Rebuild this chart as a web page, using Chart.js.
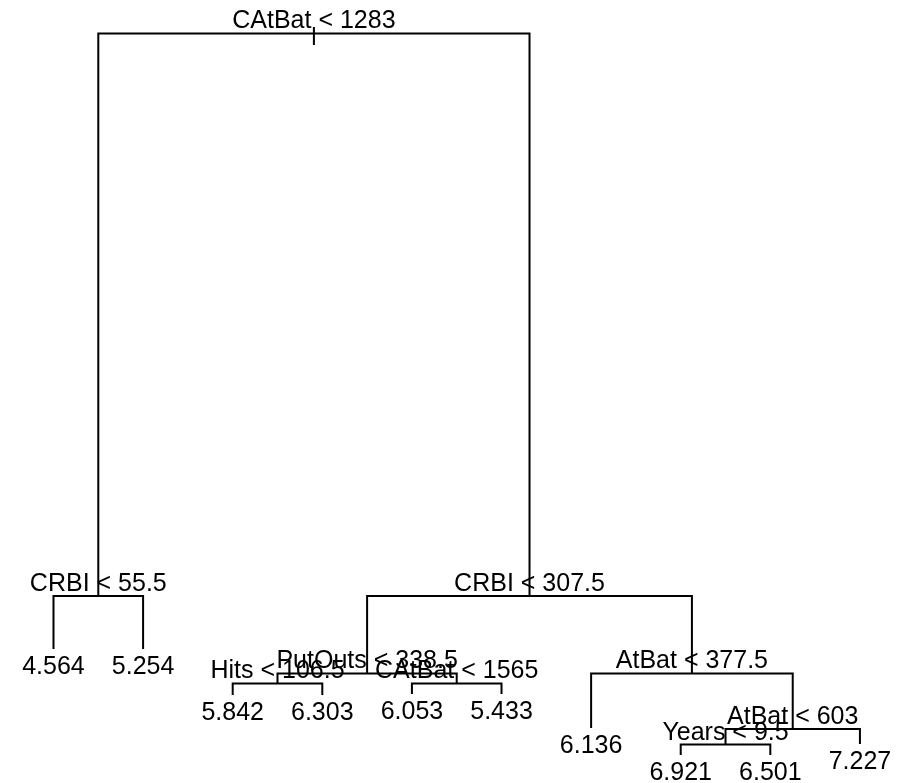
<!DOCTYPE html>
<html>
<head>
<meta charset="utf-8">
<script src="https://cdn.jsdelivr.net/npm/chart.js@4"></script>
<style>
  html, body { margin: 0; padding: 0; background: #fff; }
  #wrap { width: 911px; height: 783px; position: relative; }
</style>
</head>
<body>
<div id="wrap"><canvas id="tree"></canvas></div>
<script>
// tree nodes in preorder; leaves have -1 children
const nodeLabels = ['CAtBat < 1283', 'CRBI < 55.5', '4.564', '5.254', 'CRBI < 307.5',
    'PutOuts < 338.5', 'Hits < 106.5', '5.842', '6.303', 'CAtBat < 1565', '6.053', '5.433',
    'AtBat < 377.5', '6.136', 'AtBat < 603', 'Years < 9.5', '6.921', '6.501', '7.227'];
const leftChild  = [1, 2, -1, -1, 5, 6, 7, -1, -1, 10, -1, -1, 13, -1, 15, 16, -1, -1, -1];
const rightChild = [4, 3, -1, -1, 12, 9, 8, -1, -1, 11, -1, -1, 14, -1, 18, 17, -1, -1, -1];
// node heights (deviance units)
const nodeDeviance = [207.0, 50.74, 36.03, 36.03, 50.74, 29.22, 26.44, 23.24, 23.24, 26.44,
    23.52, 23.52, 29.22, 14.08, 13.8, 9.49, 6.58, 6.58, 9.63];
// little stem through the root
const rootStem = [208.8, 203.8];

// leaves get positions 1..n in order, splits sit midway between children
const nodeX = new Array(nodeLabels.length);
let leafCount = 0;
function layout(i) {
    if (leftChild[i] < 0) {
        leafCount++;
        nodeX[i] = leafCount;
        return;
    }
    layout(leftChild[i]);
    layout(rightChild[i]);
    nodeX[i] = (nodeX[leftChild[i]] + nodeX[rightChild[i]]) / 2;
}
layout(0);

const datasets = [];
for (let i = 0; i < nodeLabels.length; i++) {
    if (leftChild[i] < 0) continue;
    const l = leftChild[i], r = rightChild[i];
    datasets.push({
        data: [
            {x: nodeX[l], y: nodeDeviance[l]},
            {x: nodeX[l], y: nodeDeviance[i]},
            {x: nodeX[r], y: nodeDeviance[i]},
            {x: nodeX[r], y: nodeDeviance[r]}
        ]
    });
}
datasets.push({data: [{x: nodeX[0], y: rootStem[0]}, {x: nodeX[0], y: rootStem[1]}]});
datasets.forEach(d => {
    d.showLine = true;
    d.borderColor = '#000';
    d.borderWidth = 2;
    d.pointRadius = 0;
    d.fill = false;
    d.tension = 0;
});

const treeLabels = {
    id: 'treeLabels',
    afterDatasetsDraw(chart) {
        const ctx = chart.ctx;
        const xs = chart.scales.x, ys = chart.scales.y;
        ctx.save();
        ctx.fillStyle = '#000';
        ctx.font = '25px "Liberation Sans", Arial, sans-serif';
        ctx.textAlign = 'center';
        ctx.textBaseline = 'alphabetic';
        for (let i = 0; i < nodeLabels.length; i++) {
            const px = xs.getPixelForValue(nodeX[i]);
            const py = ys.getPixelForValue(nodeDeviance[i]);
            if (leftChild[i] < 0) {
                ctx.fillText(nodeLabels[i], px, py + 25);
            } else {
                ctx.fillText(nodeLabels[i], px, py - 5);
            }
        }
        ctx.restore();
    }
};

new Chart(document.getElementById('tree').getContext('2d'), {
    type: 'scatter',
    data: {datasets: datasets},
    options: {
        responsive: true,
        maintainAspectRatio: false,
        animation: false,
        layout: {padding: 0},
        plugins: {legend: {display: false}, tooltip: {enabled: false}, title: {display: false}},
        scales: {
            x: {type: 'linear', display: false, min: 0.403, max: 10.57},
            y: {type: 'linear', display: false, min: -1.2, max: 216.3}
        }
    },
    plugins: [treeLabels]
});
</script>
</body>
</html>
